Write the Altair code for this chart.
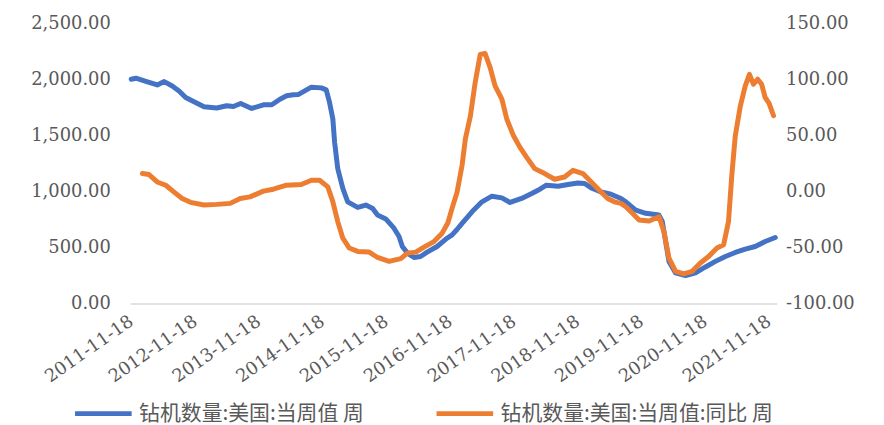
import altair as alt
import pandas as pd

SERIES_A = "钻机数量:美国:当周值 周"
SERIES_B = "钻机数量:美国:当周值:同比 周"

rig_dates = [
    "2011-11-18", "2011-12-15", "2012-02-01", "2012-04-15", "2012-05-25", "2012-07-10",
    "2012-08-18", "2012-09-25", "2012-11-12", "2013-01-08", "2013-03-22", "2013-05-18",
    "2013-06-25", "2013-08-06", "2013-10-08", "2013-12-14", "2014-01-31", "2014-03-19",
    "2014-04-26", "2014-06-03", "2014-07-01", "2014-08-08", "2014-09-15", "2014-11-11",
    "2014-12-09", "2014-12-28", "2015-01-16", "2015-01-26", "2015-02-13", "2015-03-14",
    "2015-04-11", "2015-06-07", "2015-07-24", "2015-09-01", "2015-09-29", "2015-11-15",
    "2016-01-01", "2016-01-30", "2016-02-18", "2016-03-18", "2016-04-25", "2016-06-01",
    "2016-07-09", "2016-09-04", "2016-10-31", "2016-11-29", "2016-12-27", "2017-01-25",
    "2017-03-23", "2017-05-19", "2017-07-15", "2017-09-10", "2017-10-27", "2018-01-01",
    "2018-02-28", "2018-04-05", "2018-05-23", "2018-07-29", "2018-09-24", "2018-11-20",
    "2018-12-28", "2019-02-04", "2019-04-01", "2019-05-28", "2019-07-24", "2019-08-21",
    "2019-10-17", "2019-12-13", "2020-02-27", "2020-03-17", "2020-04-05", "2020-04-24",
    "2020-06-01", "2020-07-28", "2020-09-23", "2020-11-19", "2021-01-15", "2021-03-13",
    "2021-05-09", "2021-07-05", "2021-08-31", "2021-10-27", "2021-12-24",
]
rig_counts = [
    2001, 2010, 1986, 1950, 1980, 1941,
    1897, 1838, 1800, 1755, 1744, 1764,
    1758, 1785, 1740, 1773, 1773, 1823,
    1853, 1862, 1864, 1897, 1930, 1924,
    1906, 1794, 1646, 1439, 1203, 1026,
    907, 857, 878, 848, 789, 754,
    671, 597, 508, 449, 410, 419,
    458, 508, 582, 612, 660, 715,
    818, 907, 957, 942, 901, 937,
    981, 1010, 1055, 1046, 1061, 1075,
    1070, 1031, 996, 975, 937, 907,
    833, 804, 789, 730, 552, 375,
    272, 248, 272, 325, 375, 419,
    455, 485, 508, 552, 588,
]

yoy_dates = [
    "2012-01-21", "2012-02-28", "2012-04-15", "2012-06-03", "2012-07-19", "2012-09-05",
    "2012-10-23", "2013-01-08", "2013-03-22", "2013-06-07", "2013-08-03", "2013-09-29",
    "2013-12-14", "2014-02-09", "2014-04-26", "2014-07-19", "2014-09-15", "2014-11-01",
    "2014-12-18", "2015-01-16", "2015-02-13", "2015-03-14", "2015-04-20", "2015-06-07",
    "2015-08-12", "2015-09-29", "2015-12-04", "2016-02-09", "2016-03-18", "2016-05-05",
    "2016-06-21", "2016-08-17", "2016-10-03", "2016-11-05", "2016-11-29", "2016-12-27",
    "2017-01-25", "2017-02-13", "2017-03-14", "2017-04-10", "2017-05-09", "2017-06-06",
    "2017-07-05", "2017-08-02", "2017-09-10", "2017-10-08", "2017-11-15", "2017-12-22",
    "2018-01-29", "2018-03-17", "2018-05-13", "2018-07-09", "2018-09-04", "2018-10-22",
    "2018-12-18", "2019-02-04", "2019-03-22", "2019-05-09", "2019-06-16", "2019-07-24",
    "2019-08-21", "2019-09-28", "2019-11-05", "2020-01-01", "2020-02-27", "2020-03-26",
    "2020-04-24", "2020-06-01", "2020-07-18", "2020-09-04", "2020-10-21", "2020-12-07",
    "2021-01-24", "2021-03-03", "2021-03-31", "2021-04-19", "2021-05-09", "2021-06-07",
    "2021-07-05", "2021-07-29", "2021-08-21", "2021-09-14", "2021-10-07", "2021-10-27",
    "2021-11-18", "2021-12-14",
]
yoy_values = [
    15.9, 15.0, 8.4, 5.5, -0.4, -6.3,
    -9.8, -12.2, -11.6, -10.7, -6.3, -4.9,
    0.2, 1.9, 5.5, 6.1, 9.9, 9.9,
    4.0, -9.3, -27.0, -41.8, -50.6, -53.6,
    -54.2, -59.0, -62.5, -60.1, -55.1, -54.2,
    -49.7, -44.8, -37.3, -28.0, -15.0, -1.0,
    23.2, 46.9, 67.5, 97.1, 122.2, 123.1,
    110.4, 94.1, 82.4, 64.6, 49.8, 39.5,
    30.6, 20.3, 15.9, 10.8, 12.8, 18.8,
    15.9, 8.4, 1.1, -6.3, -9.3, -10.7,
    -13.7, -19.6, -25.5, -26.4, -22.6, -35.9,
    -59.5, -71.4, -73.7, -71.4, -63.9, -58.1,
    -50.6, -47.7, -27.0, 14.4, 49.8, 76.4,
    94.1, 104.5, 95.6, 100.1, 95.6, 83.8,
    78.8, 67.5,
]

tick_years = list(range(2011, 2022))
left_ticks = [0, 500, 1000, 1500, 2000, 2500]
right_ticks = [-100, -50, 0, 50, 100, 150]

BLUE = "#4472C4"
ORANGE = "#ED7D31"
GREY = "#595959"

df_a = pd.DataFrame({"date": rig_dates, "value": rig_counts, "series": SERIES_A})
df_b = pd.DataFrame({"date": yoy_dates, "value": yoy_values, "series": SERIES_B})

x_enc = alt.X(
    "date:T",
    title=None,
    scale=alt.Scale(
        domain=[
            alt.DateTime(year=2011, month=11, date=12, utc=True),
            alt.DateTime(year=2022, month=1, date=1, utc=True),
        ]
    ),
    axis=alt.Axis(
        values=[alt.DateTime(year=y, month=11, date=18, utc=True) for y in tick_years],
        labelExpr="utcFormat(datum.value, '%Y-%m-%d')",
        labelAngle=325,
        labelAlign="right",
        labelBaseline="middle",
        labelPadding=16,
        labelFont="DejaVu Serif",
        labelFontSize=18,
        labelColor=GREY,
        ticks=False,
        grid=False,
        domain=True,
        domainColor="#D9D9D9",
        domainWidth=1.5,
        labelOverlap=False,
    ),
)

color_enc = alt.Color(
    "series:N",
    scale=alt.Scale(domain=[SERIES_A, SERIES_B], range=[BLUE, ORANGE]),
    legend=alt.Legend(
        title=None,
        orient="none",
        direction="horizontal",
        columns=2,
        legendX=-58,
        legendY=362,
        symbolType="stroke",
        symbolSize=3249,
        symbolStrokeWidth=5,
        labelFont="Noto Sans CJK SC",
        labelFontSize=21,
        labelColor=GREY,
        labelLimit=600,
        labelOffset=5,
        columnPadding=62,
    ),
)

left = alt.Chart(df_a).mark_line(strokeWidth=5, strokeJoin="round", strokeCap="round").encode(
    x=x_enc,
    y=alt.Y(
        "value:Q",
        title=None,
        scale=alt.Scale(domain=[0, 2500], nice=False),
        axis=alt.Axis(
            values=left_ticks,
            format=",.2f",
            orient="left",
            domain=False,
            ticks=False,
            grid=False,
            labelPadding=20,
            labelFont="DejaVu Serif",
            labelFontSize=18,
            labelColor=GREY,
        ),
    ),
    color=color_enc,
)

right = alt.Chart(df_b).mark_line(strokeWidth=5, strokeJoin="round", strokeCap="round").encode(
    x=x_enc,
    y=alt.Y(
        "value:Q",
        title=None,
        scale=alt.Scale(domain=[-100, 150], nice=False),
        axis=alt.Axis(
            values=right_ticks,
            labelExpr="datum.value < 0 ? '-' + format(-datum.value, '.2f') : format(datum.value, '.2f')",
            orient="right",
            domain=False,
            ticks=False,
            grid=False,
            labelPadding=9,
            labelFont="DejaVu Serif",
            labelFontSize=18,
            labelColor=GREY,
        ),
    ),
    color=color_enc,
)

chart = (
    alt.layer(left, right)
    .resolve_scale(y="independent")
    .properties(
        width=651,
        height=282,
        padding={"left": 123, "top": 14, "right": 100, "bottom": 121},
        autosize=alt.AutoSizeParams(type="none"),
        background="white",
    )
    .configure_view(stroke=None)
)

chart.save("out.html", embed_options={"renderer": "svg", "actions": False})
